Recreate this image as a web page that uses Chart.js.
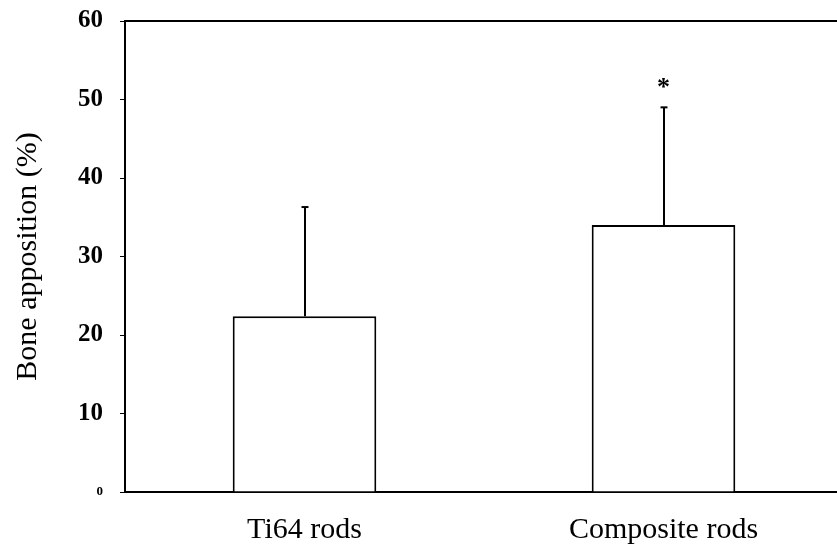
<!DOCTYPE html>
<html>
<head>
<meta charset="utf-8">
<script src="https://cdn.jsdelivr.net/npm/chart.js@4"></script>
<style>
  html, body { margin: 0; padding: 0; background: #fff; overflow: hidden; }
  #wrap { width: 845px; height: 551px; }
</style>
</head>
<body>
<div id="wrap"><canvas id="c" width="845" height="551"></canvas></div>
<script>
const categories = ['Ti64 rods', 'Composite rods'];
const meanValues = [22.4, 34.0];
const errorTops = [36.3, 49.0];
const markText = ['', '*'];
const markValues = [null, 52.2];
const yTickValues = [0, 10, 20, 30, 40, 50, 60];
const yTitle = 'Bone apposition (%)';

const SERIF = '"Liberation Serif", "Times New Roman", serif';

const extrasPlugin = {
  id: 'extras',
  afterDatasetsDraw(chart) {
    const ctx = chart.ctx;
    const ys = chart.scales.y;
    const area = chart.chartArea;
    ctx.save();
    ctx.strokeStyle = '#000';
    ctx.fillStyle = '#000';
    // top frame line
    ctx.lineWidth = 2;
    ctx.beginPath();
    ctx.moveTo(area.left - 1, area.top);
    ctx.lineTo(area.right, area.top);
    ctx.stroke();
    // error bars (upper only)
    const meta = chart.getDatasetMeta(0);
    errorTops.forEach((v, i) => {
      const bar = meta.data[i];
      const x = Math.round(bar.x);
      const y0 = ys.getPixelForValue(meanValues[i]);
      const y1 = ys.getPixelForValue(v);
      ctx.lineWidth = 2;
      ctx.beginPath();
      ctx.moveTo(x, y0);
      ctx.lineTo(x, y1);
      ctx.stroke();
      ctx.beginPath();
      ctx.moveTo(x - 3.5, y1);
      ctx.lineTo(x + 3.5, y1);
      ctx.stroke();
    });
    // significance marks
    ctx.font = 'bold 26px ' + SERIF;
    ctx.textAlign = 'center';
    ctx.textBaseline = 'alphabetic';
    markText.forEach((t, i) => {
      if (!t || markValues[i] == null) return;
      const x = meta.data[i].x;
      const y = ys.getPixelForValue(markValues[i]);
      ctx.fillText(t, x, y + 13);
    });
    ctx.restore();
  }
};

new Chart(document.getElementById('c'), {
  type: 'bar',
  data: {
    labels: categories,
    datasets: [{
      data: meanValues,
      backgroundColor: '#ffffff',
      borderColor: '#000000',
      borderWidth: 2,
      borderSkipped: 'bottom',
      barPercentage: 0.4,
      categoryPercentage: 1.0
    }]
  },
  options: {
    responsive: false,
    animation: false,
    events: [],
    layout: { padding: { top: 21, right: 2, left: 0, bottom: 0 } },
    plugins: {
      legend: { display: false },
      tooltip: { enabled: false },
      title: { display: false }
    },
    scales: {
      x: {
        type: 'category',
        offset: true,
        grid: { display: false },
        border: { display: true, color: '#000', width: 2 },
        ticks: {
          color: '#000',
          padding: 12,
          font: { family: SERIF, size: 30 },
          maxRotation: 0
        },
        afterFit(scale) { scale.height = 59; scale.paddingLeft = 0; scale.paddingRight = 0; }
      },
      y: {
        min: 0,
        max: 60,
        afterBuildTicks(scale) { scale.ticks = yTickValues.map(v => ({ value: v })); },
        grid: {
          display: true,
          drawOnChartArea: false,
          drawTicks: true,
          tickLength: 5,
          color: '#000',
          lineWidth: 1
        },
        border: { display: true, color: '#000', width: 2 },
        ticks: {
          color: '#000',
          padding: 17,
          font: (c) => ({ family: SERIF, weight: 'bold', size: (c.tick && c.tick.value === 0) ? 13 : 25 })
        },
        title: {
          display: true,
          text: yTitle,
          color: '#000',
          font: { family: SERIF, size: 30 },
          padding: { top: 10, bottom: 0 }
        },
        afterFit(scale) { scale.width = 125; scale.paddingTop = 0; scale.paddingBottom = 0; }
      }
    }
  },
  plugins: [extrasPlugin]
});
</script>
</body>
</html>
